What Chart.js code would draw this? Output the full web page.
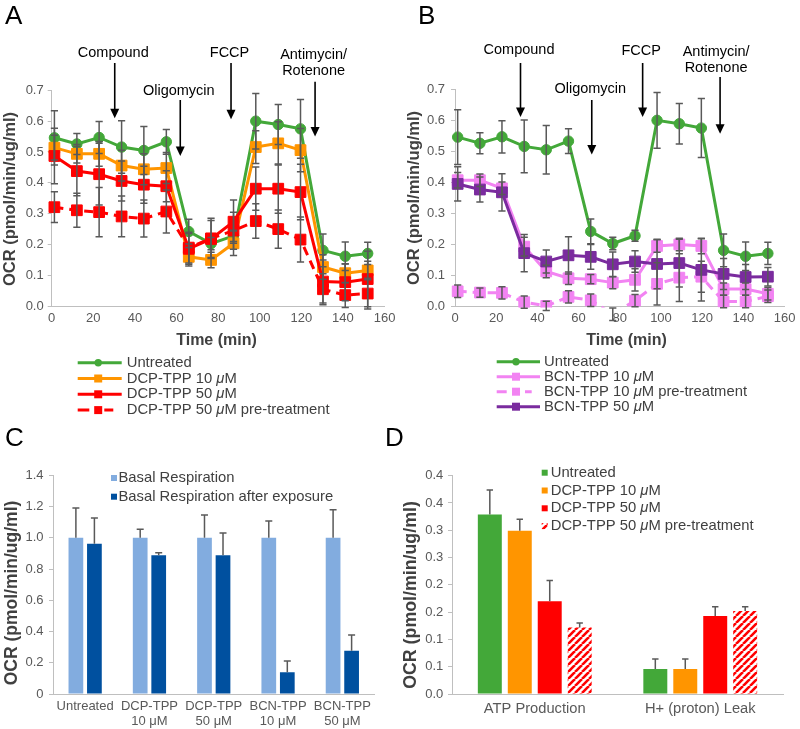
<!DOCTYPE html>
<html>
<head>
<meta charset="utf-8">
<title>OCR panels</title>
<script src="https://cdn.jsdelivr.net/npm/chart.js@4.4.1/dist/chart.umd.min.js"></script>
<style>
html,body{margin:0;padding:0;background:#fff;}
#fig{position:relative;width:800px;height:729px;overflow:hidden;background:#fff;font-family:"Liberation Sans",Arial,Helvetica,sans-serif;}
#fig canvas{position:absolute;}
.pl{position:absolute;font-size:26px;line-height:26px;color:#000;}
</style>
</head>
<body>
<div id="fig">
  <canvas id="cA" width="400" height="420" style="left:0;top:0"></canvas>
  <canvas id="cB" width="400" height="420" style="left:400px;top:0"></canvas>
  <canvas id="cC" width="400" height="309" style="left:0;top:420px"></canvas>
  <canvas id="cD" width="400" height="309" style="left:400px;top:420px"></canvas>
  <div class="pl" style="left:5px;top:2px">A</div>
  <div class="pl" style="left:418px;top:2px">B</div>
  <div class="pl" style="left:5px;top:424px">C</div>
  <div class="pl" style="left:385px;top:424px">D</div>
</div>
<script>
// ---------------- data ----------------
const TIMES = [1.3, 12.1, 22.8, 33.6, 44.3, 55.1, 65.9, 76.6, 87.4, 98.1, 108.9, 119.6, 130.4, 141.1, 151.9];

const UNTREATED     = [0.546, 0.526, 0.547, 0.516, 0.505, 0.533, 0.242, 0.203, 0.228, 0.600, 0.589, 0.575, 0.181, 0.162, 0.171];
const UNTREATED_ERR = [0.088, 0.034, 0.052, 0.085, 0.078, 0.040, 0.040, 0.020, 0.018, 0.090, 0.065, 0.095, 0.053, 0.046, 0.036];

const A_DCP10       = [0.514, 0.494, 0.494, 0.456, 0.444, 0.448, 0.160, 0.150, 0.204, 0.516, 0.528, 0.506, 0.127, 0.107, 0.116];
const A_DCP10_ERR   = [0.040, 0.030, 0.040, 0.050, 0.050, 0.050, 0.030, 0.025, 0.040, 0.053, 0.070, 0.070, 0.040, 0.030, 0.030];
const A_DCP50       = [0.487, 0.438, 0.428, 0.406, 0.394, 0.389, 0.186, 0.218, 0.274, 0.381, 0.381, 0.370, 0.080, 0.078, 0.088];
const A_DCP50_ERR   = [0.090, 0.080, 0.100, 0.065, 0.060, 0.050, 0.050, 0.060, 0.070, 0.070, 0.080, 0.090, 0.070, 0.060, 0.090];
const A_DCP50_PRE   = [0.321, 0.311, 0.305, 0.291, 0.284, 0.307, 0.190, 0.220, 0.245, 0.276, 0.250, 0.216, 0.055, 0.036, 0.041];
const A_DCP50_PRE_ERR = [0.050, 0.055, 0.080, 0.066, 0.060, 0.070, 0.050, 0.065, 0.060, 0.056, 0.062, 0.073, 0.050, 0.040, 0.050];

const B_BCN10       = [0.407, 0.407, 0.381, 0.193, 0.113, 0.091, 0.088, 0.077, 0.086, 0.195, 0.200, 0.195, 0.056, 0.056, 0.041];
const B_BCN10_ERR   = [0.025, 0.020, 0.020, 0.030, 0.020, 0.020, 0.015, 0.020, 0.036, 0.020, 0.020, 0.025, 0.020, 0.020, 0.020];
const B_BCN10_PRE   = [0.049, 0.045, 0.044, 0.014, 0.002, 0.031, 0.020, -0.025, 0.019, 0.073, 0.093, 0.096, 0.016, 0.016, 0.033];
const B_BCN10_PRE_ERR = [0.020, 0.015, 0.020, 0.020, 0.015, 0.020, 0.020, 0.020, 0.020, 0.068, 0.077, 0.050, 0.020, 0.020, 0.020];
const B_BCN50       = [0.395, 0.377, 0.368, 0.172, 0.145, 0.165, 0.160, 0.136, 0.145, 0.137, 0.140, 0.118, 0.105, 0.095, 0.096];
const B_BCN50_ERR   = [0.055, 0.040, 0.060, 0.060, 0.037, 0.060, 0.040, 0.040, 0.035, 0.080, 0.077, 0.100, 0.050, 0.040, 0.030];

const C_CATEGORIES  = [['Untreated'], ['DCP-TPP', '10 μM'], ['DCP-TPP', '50 μM'], ['BCN-TPP', '10 μM'], ['BCN-TPP', '50 μM']];
const C_BASAL       = [1.0, 1.0, 1.0, 1.0, 1.0];
const C_BASAL_ERR   = [0.19, 0.054, 0.146, 0.107, 0.18];
const C_AFTER       = [0.962, 0.888, 0.888, 0.139, 0.277];
const C_AFTER_ERR   = [0.165, 0.017, 0.143, 0.072, 0.101];

const D_CATEGORIES  = ['ATP Production', 'H+ (proton) Leak'];
const D_TICK_LABELS = ['0.0', '0.1', '0.1', '0.2', '0.2', '0.3', '0.3', '0.4', '0.4'];
const D_UNTREATED   = [0.329, 0.046];
const D_UNTREATED_ERR = [0.045, 0.018];
const D_DCP10       = [0.299, 0.046];
const D_DCP10_ERR   = [0.021, 0.018];
const D_DCP50       = [0.170, 0.143];
const D_DCP50_ERR   = [0.038, 0.017];
const D_DCP50_PRE   = [0.122, 0.152];
const D_DCP50_PRE_ERR = [0.008, 0.008];

// ---------------- styles ----------------
const FONT = '"Liberation Sans", Arial, Helvetica, sans-serif';
const TXT = '#404040', TICK = '#595959', AXIS = '#BFBFBF', ERR = '#595959';
const GREEN = '#43A839', ORANGE = '#FF9500', RED = '#FF0000', PINK = '#F283F2', PURPLE = '#7A2B9E';
const LBLUE = '#82ACDF', DBLUE = '#00509F';
Chart.defaults.font.family = FONT;

function pts(vals) { return vals.map((v, i) => ({ x: TIMES[i], y: v })); }

function hatch(color) {
  const s = 7, c = document.createElement('canvas');
  c.width = s; c.height = s;
  const g = c.getContext('2d');
  g.fillStyle = '#fff'; g.fillRect(0, 0, s, s);
  g.strokeStyle = color; g.lineWidth = 2.6;
  g.beginPath();
  for (let k = -1; k <= 1; k++) { g.moveTo(k * s, s); g.lineTo(k * s + s, 0); }
  g.stroke();
  return g.createPattern(c, 'repeat');
}

function richText(ctx, text, x, y, size, color, bold, align) {
  const parts = text.split(/(μ)/).filter(p => p.length);
  const fontFor = it => (it ? 'italic ' : '') + (bold ? 'bold ' : '') + size + 'px ' + FONT;
  const widths = parts.map(p => { ctx.font = fontFor(p === 'μ'); return ctx.measureText(p).width; });
  const total = widths.reduce((a, b) => a + b, 0);
  let cx = align === 'center' ? x - total / 2 : x;
  ctx.textAlign = 'left'; ctx.textBaseline = 'middle'; ctx.fillStyle = color;
  parts.forEach((p, i) => { ctx.font = fontFor(p === 'μ'); ctx.fillText(p, cx, y); cx += widths[i]; });
}

const decorPlugin = {
  id: 'decor',
  afterDatasetsDraw(chart, args, o) {
    const ctx = chart.ctx;
    chart.data.datasets.forEach((ds, di) => {
      if (!ds.errors) return;
      const meta = chart.getDatasetMeta(di);
      const ys = chart.scales[meta.yAxisID];
      ctx.save();
      ctx.strokeStyle = ERR; ctx.lineWidth = 1.5; ctx.setLineDash([]);
      meta.data.forEach((el, i) => {
        const raw = ds.data[i];
        const val = (typeof raw === 'object') ? raw.y : raw;
        const e = ds.errors[i];
        const x = el.x;
        const yTop = ys.getPixelForValue(val + e);
        const yBot = o.upOnly ? el.y : ys.getPixelForValue(val - e);
        const cw = o.cap || 3.6;
        ctx.beginPath();
        ctx.moveTo(x, yTop); ctx.lineTo(x, yBot);
        ctx.moveTo(x - cw, yTop); ctx.lineTo(x + cw, yTop);
        if (!o.upOnly) { ctx.moveTo(x - cw, yBot); ctx.lineTo(x + cw, yBot); }
        ctx.stroke();
      });
      ctx.restore();
    });
  },
  afterDraw(chart, args, o) {
    const ctx = chart.ctx;
    ctx.save();
    if (o.yTitle) {
      const t = o.yTitle;
      ctx.save();
      ctx.translate(t.x, t.y); ctx.rotate(-Math.PI / 2);
      ctx.font = 'bold ' + t.size + 'px ' + FONT; ctx.fillStyle = TXT;
      ctx.textAlign = 'center'; ctx.textBaseline = 'middle';
      ctx.fillText(t.text, 0, 0);
      ctx.restore();
    }
    if (o.xTitle) {
      const t = o.xTitle;
      ctx.font = 'bold ' + t.size + 'px ' + FONT; ctx.fillStyle = TXT;
      ctx.textAlign = 'center'; ctx.textBaseline = 'middle';
      ctx.fillText(t.text, t.x, t.y);
    }
    if (o.annotations) {
      const xs = chart.scales.x, ys = chart.scales.y;
      o.annotations.forEach(a => {
        const x = xs.getPixelForValue(a.t);
        const tip = ys.getPixelForValue(a.tip);
        ctx.fillStyle = '#000';
        ctx.font = o.annotFont + 'px ' + FONT;
        ctx.textAlign = 'center'; ctx.textBaseline = 'middle';
        a.lines.forEach((ln, k) => ctx.fillText(ln, x + (a.dx || -1.5), a.textY + k * o.annotLH));
        ctx.strokeStyle = '#000'; ctx.lineWidth = 1.6;
        ctx.beginPath(); ctx.moveTo(x, a.top); ctx.lineTo(x, tip - 8); ctx.stroke();
        ctx.beginPath(); ctx.moveTo(x - 4.5, tip - 9.5); ctx.lineTo(x + 4.5, tip - 9.5); ctx.lineTo(x, tip); ctx.closePath(); ctx.fill();
      });
    }
    if (o.lineLegend) {
      const L = o.lineLegend;
      chart.data.datasets.forEach((ds, i) => {
        const y = L.y0 + i * L.dy;
        ctx.strokeStyle = ds.borderColor; ctx.lineWidth = 3;
        ctx.beginPath();
        if (ds.borderDash) {
          ctx.setLineDash(L.dash);
          ctx.moveTo(L.x0, y); ctx.lineTo(L.x0 + L.dashLen, y);
        } else {
          ctx.setLineDash([]);
          ctx.moveTo(L.x0, y); ctx.lineTo(L.x1, y);
        }
        ctx.stroke(); ctx.setLineDash([]);
        const mx = L.x0 + L.mOff;
        ctx.fillStyle = ds.borderColor;
        if (ds.pointStyle === 'circle') { ctx.beginPath(); ctx.arc(mx, y, 3.7, 0, Math.PI * 2); ctx.fill(); }
        else { ctx.fillRect(mx - 4, y - 4, 8, 8); }
        richText(ctx, ds.label, L.textX, y, L.font, TXT, false, 'left');
      });
    }
    if (o.boxLegend) {
      const B = o.boxLegend;
      chart.data.datasets.forEach((ds, i) => {
        const y = B.y0 + i * B.dy;
        ctx.fillStyle = ds.backgroundColor;
        ctx.fillRect(B.x, y - B.size / 2, B.size, B.size);
        richText(ctx, ds.label, B.textX, y, B.font, TXT, false, 'left');
      });
    }
    ctx.restore();
  }
};

function timeScales(yWidth, yPad) {
  return {
    x: {
      type: 'linear', min: 0, max: 160,
      ticks: { stepSize: 20, color: TICK, font: { size: 13, lineHeight: 15 / 13 }, padding: 4.6, maxRotation: 0 },
      grid: { display: true, drawOnChartArea: false, drawTicks: false, color: AXIS },
      border: { display: true, color: AXIS, width: 1 },
      afterFit: s => { s.height = 45; }
    },
    y: {
      min: 0, max: 0.7,
      ticks: { stepSize: 0.1, color: TICK, font: { size: 13 }, padding: yPad, callback: v => v.toFixed(1) },
      grid: { display: true, drawOnChartArea: false, drawTicks: true, tickLength: 4, color: AXIS },
      border: { display: true, color: AXIS, width: 1 },
      afterFit: s => { s.width = yWidth; }
    }
  };
}

function lineDs(label, vals, errs, color, style, dashed, order) {
  return {
    label: label, data: pts(vals), errors: errs,
    borderColor: color, backgroundColor: color,
    pointBackgroundColor: color, pointBorderColor: color, pointBorderWidth: 1,
    pointStyle: style, pointRadius: style === 'circle' ? 5.2 : 7.6,
    borderWidth: 3, borderDash: dashed ? [9, 6] : undefined,
    tension: 0, order: order,
    clip: { left: 12, right: 12, top: 12, bottom: 1 }
  };
}

const common = { responsive: false, animation: false, events: [] };

// ---------------- Panel A ----------------
new Chart(document.getElementById('cA'), {
  type: 'line',
  data: { datasets: [
    lineDs('Untreated', UNTREATED, UNTREATED_ERR, GREEN, 'circle', false, 4),
    lineDs('DCP-TPP 10 μM', A_DCP10, A_DCP10_ERR, ORANGE, 'rect', false, 3),
    lineDs('DCP-TPP 50 μM', A_DCP50, A_DCP50_ERR, RED, 'rect', false, 2),
    lineDs('DCP-TPP 50 μM pre-treatment', A_DCP50_PRE, A_DCP50_PRE_ERR, RED, 'rect', true, 1)
  ]},
  options: Object.assign({}, common, {
    layout: { padding: { left: 0, top: 90.3, right: 14.3, bottom: 68.8 } },
    scales: timeScales(51.7, 4),
    plugins: {
      legend: { display: false }, tooltip: { enabled: false },
      decor: {
        yTitle: { text: 'OCR (pmol/min/ug/ml)', x: 10.8, y: 199, size: 16.5 },
        xTitle: { text: 'Time (min)', x: 216.5, y: 341, size: 16 },
        annotFont: 14.5, annotLH: 16,
        annotations: [
          { lines: ['Compound'], t: 30.3, tip: 0.609, top: 63, textY: 53 },
          { lines: ['Oligomycin'], t: 61.8, tip: 0.487, top: 100, textY: 90.7 },
          { lines: ['FCCP'], t: 86.2, tip: 0.606, top: 63, textY: 53 },
          { lines: ['Antimycin/', 'Rotenone'], t: 126.6, tip: 0.55, top: 81.7, textY: 55 }
        ],
        lineLegend: { x0: 77.7, x1: 121.7, mOff: 20.5, dash: [11.6, 15], dashLen: 35.6, textX: 126.7, y0: 362.7, dy: 15.8, font: 14.8 }
      }
    }
  }),
  plugins: [decorPlugin]
});

// ---------------- Panel B ----------------
new Chart(document.getElementById('cB'), {
  type: 'line',
  data: { datasets: [
    lineDs('Untreated', UNTREATED, UNTREATED_ERR, GREEN, 'circle', false, 4),
    lineDs('BCN-TPP 10 μM', B_BCN10, B_BCN10_ERR, PINK, 'rect', false, 3),
    lineDs('BCN-TPP 10 μM pre-treatment', B_BCN10_PRE, B_BCN10_PRE_ERR, PINK, 'rect', true, 2),
    lineDs('BCN-TPP 50 μM', B_BCN50, B_BCN50_ERR, PURPLE, 'rect', false, 1)
  ]},
  options: Object.assign({}, common, {
    layout: { padding: { left: 0, top: 89.3, right: 14.3, bottom: 68.5 } },
    scales: timeScales(55, 6),
    plugins: {
      legend: { display: false }, tooltip: { enabled: false },
      decor: {
        yTitle: { text: 'OCR (pmol/min/ug/ml)', x: 14.5, y: 198, size: 16.5 },
        xTitle: { text: 'Time (min)', x: 226.5, y: 341, size: 16 },
        annotFont: 14.5, annotLH: 16,
        annotations: [
          { lines: ['Compound'], t: 31.8, tip: 0.611, top: 63, textY: 50 },
          { lines: ['Oligomycin'], t: 66.4, tip: 0.49, top: 100, textY: 89.3 },
          { lines: ['FCCP'], t: 91.1, tip: 0.611, top: 63, textY: 51 },
          { lines: ['Antimycin/', 'Rotenone'], t: 128.7, tip: 0.557, top: 77, textY: 52, dx: -4 }
        ],
        lineLegend: { x0: 96.7, x1: 140, mOff: 19.3, dash: [10, 18.3], dashLen: 35, textX: 144, y0: 361.7, dy: 15, font: 14.8 }
      }
    }
  }),
  plugins: [decorPlugin]
});

// ---------------- Panel C ----------------
new Chart(document.getElementById('cC'), {
  type: 'bar',
  data: {
    labels: C_CATEGORIES,
    datasets: [
      { label: 'Basal Respiration', data: C_BASAL, errors: C_BASAL_ERR, backgroundColor: LBLUE, categoryPercentage: 0.576, barPercentage: 0.795 },
      { label: 'Basal Respiration after exposure', data: C_AFTER, errors: C_AFTER_ERR, backgroundColor: DBLUE, categoryPercentage: 0.576, barPercentage: 0.795 }
    ]
  },
  options: Object.assign({}, common, {
    layout: { padding: { left: 0, top: 55.3, right: 25.5, bottom: 0 } },
    scales: {
      x: {
        ticks: { color: TICK, font: { size: 13, lineHeight: 15 / 13 }, padding: 4.5, maxRotation: 0, autoSkip: false },
        grid: { display: false, drawTicks: false },
        border: { display: true, color: AXIS, width: 1 },
        afterFit: s => { s.height = 35; }
      },
      y: {
        min: 0, max: 1.4,
        ticks: { stepSize: 0.2, color: TICK, font: { size: 13 }, padding: 5.5 },
        grid: { display: true, drawOnChartArea: false, drawTicks: true, tickLength: 4, color: AXIS },
        border: { display: true, color: AXIS, width: 1 },
        afterFit: s => { s.width = 53; }
      }
    },
    plugins: {
      legend: { display: false }, tooltip: { enabled: false },
      decor: {
        upOnly: true, cap: 3.5,
        yTitle: { text: 'OCR (pmol/min/ug/ml)', x: 11.7, y: 173, size: 17.5 },
        boxLegend: { x: 111, size: 6, textX: 118.5, y0: 58, dy: 18.7, font: 14.8 }
      }
    }
  }),
  plugins: [decorPlugin]
});

// ---------------- Panel D ----------------
const HATCH = hatch(RED);
new Chart(document.getElementById('cD'), {
  type: 'bar',
  data: {
    labels: D_CATEGORIES,
    datasets: [
      { label: 'Untreated', data: D_UNTREATED, errors: D_UNTREATED_ERR, backgroundColor: GREEN, categoryPercentage: 0.724, barPercentage: 0.8 },
      { label: 'DCP-TPP 10 μM', data: D_DCP10, errors: D_DCP10_ERR, backgroundColor: ORANGE, categoryPercentage: 0.724, barPercentage: 0.8 },
      { label: 'DCP-TPP 50 μM', data: D_DCP50, errors: D_DCP50_ERR, backgroundColor: RED, categoryPercentage: 0.724, barPercentage: 0.8 },
      { label: 'DCP-TPP 50 μM pre-treatment', data: D_DCP50_PRE, errors: D_DCP50_PRE_ERR, backgroundColor: HATCH, categoryPercentage: 0.724, barPercentage: 0.8 }
    ]
  },
  options: Object.assign({}, common, {
    layout: { padding: { left: 0, top: 55.7, right: 17, bottom: 0 } },
    scales: {
      x: {
        ticks: { color: TICK, font: { size: 14.7, lineHeight: 1.2 }, padding: 5.9, maxRotation: 0, autoSkip: false },
        grid: { display: false, drawTicks: false },
        border: { display: true, color: AXIS, width: 1 },
        afterFit: s => { s.height = 35; }
      },
      y: {
        min: 0, max: 0.4,
        ticks: { stepSize: 0.05, color: TICK, font: { size: 13 }, padding: 4.7, callback: (v, i) => D_TICK_LABELS[i] },
        grid: { display: true, drawOnChartArea: false, drawTicks: true, tickLength: 4, color: AXIS },
        border: { display: true, color: AXIS, width: 1 },
        afterFit: s => { s.width = 52; }
      }
    },
    plugins: {
      legend: { display: false }, tooltip: { enabled: false },
      decor: {
        upOnly: true, cap: 3.2,
        yTitle: { text: 'OCR (pmol/min/ug/ml)', x: 10.8, y: 175, size: 17.8 },
        boxLegend: { x: 141.7, size: 6, textX: 150.7, y0: 52.7, dy: 17.8, font: 14.8 }
      }
    }
  }),
  plugins: [decorPlugin]
});
</script>
</body>
</html>
